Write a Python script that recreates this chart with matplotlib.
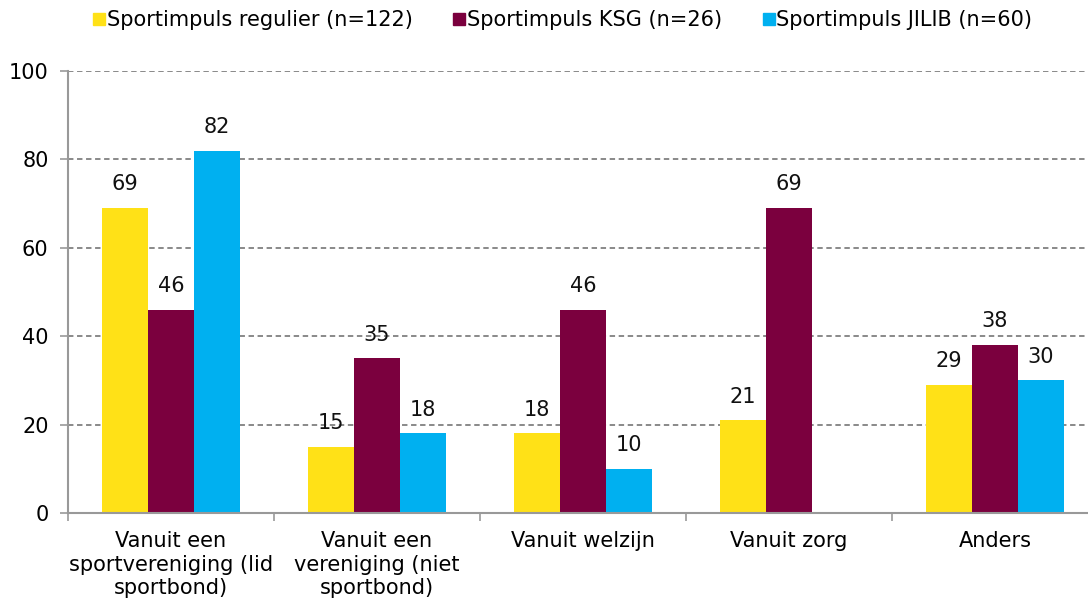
import numpy as np
import matplotlib.pyplot as plt
from matplotlib.lines import Line2D

categories = ['Vanuit een\nsportvereniging (lid\nsportbond)',
              'Vanuit een\nvereniging (niet\nsportbond)',
              'Vanuit welzijn', 'Vanuit zorg', 'Anders']
series_names = ['Sportimpuls regulier (n=122)', 'Sportimpuls KSG (n=26)',
                'Sportimpuls JILIB (n=60)']
regulier = [69, 15, 18, 21, 29]
ksg = [46, 35, 46, 69, 38]
jilib = [82, 18, 10, np.nan, 30]
colors = ['#FFE117', '#7B003E', '#00B0F0']

plt.rcParams['font.family'] = 'DejaVu Sans'
fig = plt.figure(figsize=(10.88, 6.0), dpi=100)
ax = fig.add_axes([68/1088, 87/600, 1030/1088, 442/600])

x = np.arange(len(categories))
w = 46/206
for i, (vals, c) in enumerate(zip([regulier, ksg, jilib], colors)):
    pos = x + (i - 1) * w
    ax.bar(pos, vals, width=w, color=c, zorder=2)
    for p, v in zip(pos, vals):
        if np.isnan(v):
            continue
        ax.annotate(f'{v:.0f}', (p, v), xytext=(0, 17), textcoords='offset points',
                    ha='center', va='center', fontsize=15, color='#111111')

ax.set_ylim(0, 100)
ax.set_xlim(-0.5, len(categories) - 0.5)
ax.set_yticks(range(0, 101, 20))
ax.yaxis.grid(True, linestyle=(0, (3, 2)), color='#808080', linewidth=1.3, zorder=0)
ax.set_axisbelow(True)

ax.set_xticks(np.arange(-0.5, len(categories), 1.0))
ax.set_xticklabels([])
ax.set_xticks(x, minor=True)
ax.set_xticklabels(categories, minor=True, fontsize=15, linespacing=1.22)
ax.tick_params(axis='x', which='minor', length=0, pad=13)
ax.tick_params(axis='x', which='major', length=6, color='#999999', width=1.2)
ax.tick_params(axis='y', length=6, color='#999999', width=1.2, labelsize=15, pad=8)

for s in ['top', 'right']:
    ax.spines[s].set_visible(False)
for s in ['left', 'bottom']:
    ax.spines[s].set_color('#999999')
    ax.spines[s].set_linewidth(1.5)

handles = [Line2D([], [], marker='s', linestyle='', color=c, markersize=8) for c in colors]
fig.legend(handles, series_names, loc='center', bbox_to_anchor=(563/1088, 1 - 20/600),
           ncol=3, frameon=False, fontsize=15, handlelength=0.5, handletextpad=0.1,
           columnspacing=2.0)

fig.savefig('out.png', dpi=100)
